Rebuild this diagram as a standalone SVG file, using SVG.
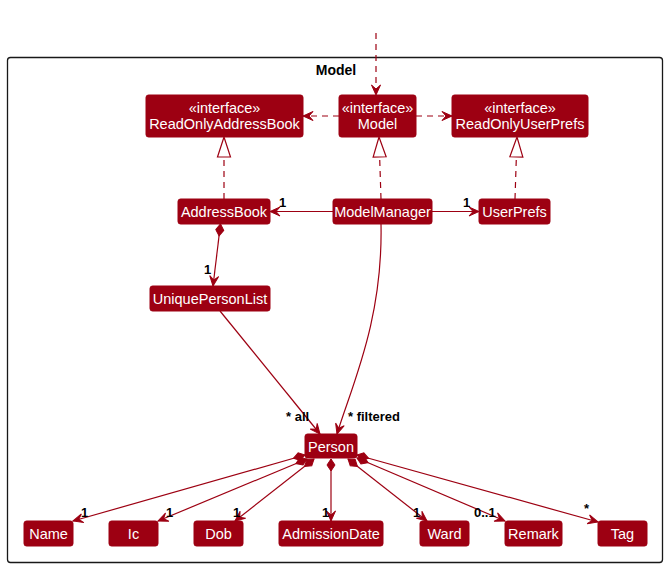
<svg xmlns="http://www.w3.org/2000/svg" width="668" height="568" viewBox="0 0 668 568">
<defs>
<style>
.box{fill:#9D0012;stroke:#9D0012;stroke-width:1}
.t{font-family:"Liberation Sans",Arial,sans-serif;font-size:14.5px;fill:#fff;text-anchor:middle}
.lbl{font-family:"Liberation Sans",Arial,sans-serif;font-size:13px;font-weight:bold;fill:#000}
.e{fill:none;stroke:#9D0012;stroke-width:1.2}
.d{stroke-dasharray:6,5}
</style>
<marker id="arr" markerUnits="userSpaceOnUse" viewBox="-12 -6 14 12" refX="0" refY="0" markerWidth="14" markerHeight="12" orient="auto">
<path d="M-10,-4.5 L0,0 L-10,4.5 L-6,0 Z" fill="#9D0012" stroke="#9D0012" stroke-width="1" stroke-linejoin="miter"/>
</marker>
<marker id="dia" markerUnits="userSpaceOnUse" viewBox="-1 -6 15 12" refX="0" refY="0" markerWidth="15" markerHeight="12" orient="auto">
<path d="M0,0 L6,-4 L12,0 L6,4 Z" fill="#9D0012" stroke="#9D0012" stroke-width="1"/>
</marker>
<marker id="tri" markerUnits="userSpaceOnUse" viewBox="-22 -8 24 16" refX="0" refY="0" markerWidth="24" markerHeight="16" orient="auto">
<path d="M0,0 L-20,-6.5 L-20,6.5 Z" fill="#fff" stroke="#9D0012" stroke-width="1.2"/>
</marker>
</defs>
<rect width="668" height="568" fill="#fff"/>
<g id="pkg-Model">
<rect x="7.5" y="57.5" width="655" height="505" rx="3" fill="none" stroke="#181818" stroke-width="1.3"/>
<text x="336" y="75" font-family="Liberation Sans,Arial,sans-serif" font-size="14px" font-weight="bold" text-anchor="middle">Model</text>
</g>
<g id="connectors">
<path class="e d" d="M376,33 L376,95" marker-end="url(#arr)"/>
<path class="e d" d="M339,116 L303,116" marker-end="url(#arr)"/>
<path class="e d" d="M416,116 L452,116" marker-end="url(#arr)"/>
<path class="e d" d="M224,199 L224,137" marker-end="url(#tri)"/>
<path class="e d" d="M381,199 L379,137" marker-end="url(#tri)"/>
<path class="e d" d="M515,199 L517,137" marker-end="url(#tri)"/>
<path class="e" d="M333,211.5 L270,211.5" marker-end="url(#arr)"/>
<text class="lbl" x="279" y="207">1</text>
<path class="e" d="M432,211.5 L479,211.5" marker-end="url(#arr)"/>
<text class="lbl" x="463" y="207">1</text>
<path class="e" d="M220.5,224 L213,286" marker-start="url(#dia)" marker-end="url(#arr)"/>
<text class="lbl" x="204" y="274">1</text>
<path class="e" d="M220,311 L320,434" marker-end="url(#arr)"/>
<text class="lbl" x="286" y="421">* all</text>
<path class="e" d="M381,224 C383,320 352,385 337,434" marker-end="url(#arr)"/>
<text class="lbl" x="348" y="421">* filtered</text>
<path class="e" d="M305,455 L73,521" marker-start="url(#dia)" marker-end="url(#arr)"/>
<text class="lbl" x="81" y="517">1</text>
<path class="e" d="M307,459 L158,521" marker-start="url(#dia)" marker-end="url(#arr)"/>
<text class="lbl" x="166" y="517">1</text>
<path class="e" d="M314,459 L235,521" marker-start="url(#dia)" marker-end="url(#arr)"/>
<text class="lbl" x="233" y="517">1</text>
<path class="e" d="M331,459 L331,521" marker-start="url(#dia)" marker-end="url(#arr)"/>
<text class="lbl" x="322" y="517">1</text>
<path class="e" d="M348,459 L427,521" marker-start="url(#dia)" marker-end="url(#arr)"/>
<text class="lbl" x="413" y="517">1</text>
<path class="e" d="M357,458 L505,521" marker-start="url(#dia)" marker-end="url(#arr)"/>
<text class="lbl" x="474" y="517">0..1</text>
<path class="e" d="M357,455 L598,522" marker-start="url(#dia)" marker-end="url(#arr)"/>
<text class="lbl" x="584" y="513">*</text>
</g>
<g id="ReadOnlyAddressBook"><rect class="box" x="146" y="95" width="157" height="42" rx="2.5"/><text class="t" x="224.5" y="113">«interface»</text><text class="t" x="224.5" y="129">ReadOnlyAddressBook</text></g>
<g id="Model"><rect class="box" x="339" y="95" width="77" height="42" rx="2.5"/><text class="t" x="377.5" y="113">«interface»</text><text class="t" x="377.5" y="129">Model</text></g>
<g id="ReadOnlyUserPrefs"><rect class="box" x="452" y="95" width="136" height="42" rx="2.5"/><text class="t" x="520" y="113">«interface»</text><text class="t" x="520" y="129">ReadOnlyUserPrefs</text></g>
<g id="AddressBook"><rect class="box" x="178" y="199" width="92" height="25" rx="2.5"/><text class="t" x="224" y="217">AddressBook</text></g>
<g id="ModelManager"><rect class="box" x="333" y="199" width="99" height="25" rx="2.5"/><text class="t" x="382.5" y="217">ModelManager</text></g>
<g id="UserPrefs"><rect class="box" x="479" y="199" width="71" height="25" rx="2.5"/><text class="t" x="514.5" y="217">UserPrefs</text></g>
<g id="UniquePersonList"><rect class="box" x="150" y="286" width="120" height="25" rx="2.5"/><text class="t" x="210" y="304">UniquePersonList</text></g>
<g id="Person"><rect class="box" x="305" y="434" width="52" height="24" rx="2.5"/><text class="t" x="331" y="452">Person</text></g>
<g id="Name"><rect class="box" x="24" y="521" width="49" height="25" rx="2.5"/><text class="t" x="48.5" y="539">Name</text></g>
<g id="Ic"><rect class="box" x="109" y="521" width="49" height="25" rx="2.5"/><text class="t" x="133.5" y="539">Ic</text></g>
<g id="Dob"><rect class="box" x="194" y="521" width="49" height="25" rx="2.5"/><text class="t" x="218.5" y="539">Dob</text></g>
<g id="AdmissionDate"><rect class="box" x="279" y="521" width="104" height="25" rx="2.5"/><text class="t" x="331" y="539">AdmissionDate</text></g>
<g id="Ward"><rect class="box" x="420" y="521" width="49" height="25" rx="2.5"/><text class="t" x="444.5" y="539">Ward</text></g>
<g id="Remark"><rect class="box" x="505" y="521" width="57" height="25" rx="2.5"/><text class="t" x="533.5" y="539">Remark</text></g>
<g id="Tag"><rect class="box" x="598" y="521" width="49" height="25" rx="2.5"/><text class="t" x="622.5" y="539">Tag</text></g>
</svg>
